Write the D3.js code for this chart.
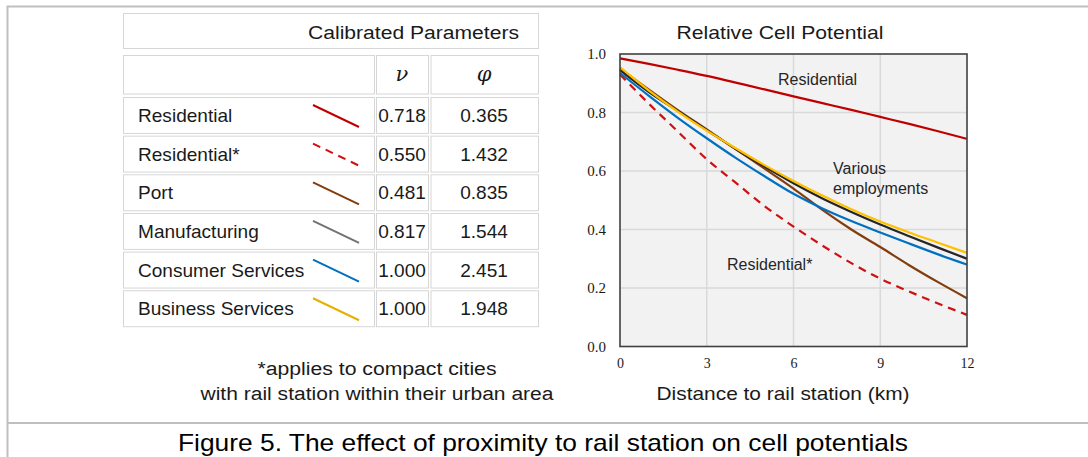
<!DOCTYPE html>
<html>
<head>
<meta charset="utf-8">
<script src="https://cdn.jsdelivr.net/npm/d3@7"></script>
<style>
  body { margin: 0; background: #fff; }
  svg { display: block; }
</style>
</head>
<body>
<script>
// distances along the x axis (km)
const distances = [0, 1, 2, 3, 4, 5, 6, 7, 8, 9, 10, 11, 12];

// relative cell potential
const residential      = [0.985, 0.966, 0.946, 0.925, 0.902, 0.879, 0.855, 0.832, 0.809, 0.785, 0.761, 0.736, 0.710];
const residentialStar  = [0.930, 0.830, 0.735, 0.640, 0.560, 0.480, 0.410, 0.345, 0.285, 0.232, 0.188, 0.147, 0.108];
const port             = [0.950, 0.878, 0.808, 0.742, 0.675, 0.608, 0.540, 0.467, 0.400, 0.340, 0.278, 0.220, 0.165];
const manufacturing    = [0.945, 0.870, 0.805, 0.740, 0.675, 0.615, 0.558, 0.506, 0.460, 0.417, 0.377, 0.338, 0.300];
const consumerServices = [0.935, 0.857, 0.782, 0.712, 0.645, 0.582, 0.522, 0.472, 0.429, 0.390, 0.352, 0.315, 0.280];
const businessServices = [0.955, 0.875, 0.803, 0.738, 0.678, 0.620, 0.566, 0.516, 0.469, 0.427, 0.390, 0.355, 0.320];

// table contents
const rowNames = ['Residential', 'Residential*', 'Port', 'Manufacturing', 'Consumer Services', 'Business Services'];
const nuValues = ['0.718', '0.550', '0.481', '0.817', '1.000', '1.000'];
const phiValues = ['0.365', '1.432', '0.835', '1.544', '2.451', '1.948'];

const xTicks = [0, 3, 6, 9, 12];
const yTicks = [0, 0.2, 0.4, 0.6, 0.8, 1.0];

const series = [
    {name: 'Residential', values: residential, color: '#c00000', legend: '#c00000', dash: null},
    {name: 'Residential*', values: residentialStar, color: '#d01010', legend: '#d01010', dash: '8,6'},
    {name: 'Port', values: port, color: '#843c0c', legend: '#843c0c', dash: null},
    {name: 'Manufacturing', values: manufacturing, color: '#262626', legend: '#767171', dash: null},
    {name: 'Consumer Services', values: consumerServices, color: '#0070c0', legend: '#0070c0', dash: null},
    {name: 'Business Services', values: businessServices, color: '#ffc000', legend: '#e6b000', dash: null}
];
// draw order in the chart (yellow on top)
const drawOrder = ['Residential*', 'Port', 'Consumer Services', 'Manufacturing', 'Business Services', 'Residential'];

const width = 1088;
const height = 457;
const sans = 'Arial, "Liberation Sans", sans-serif';
const serif = '"Times New Roman", "Liberation Serif", serif';

const svg = d3.select('body').append('svg')
    .attr('width', width)
    .attr('height', height);

// stretched text helper (the picture's lettering is a bit wider than plain Arial)
function label(parent, t, x, y, size, len) {
    return parent.append('text')
        .attr('x', x).attr('y', y)
        .attr('text-anchor', 'middle')
        .attr('textLength', len).attr('lengthAdjust', 'spacingAndGlyphs')
        .style('font', `${size}px ${sans}`).attr('fill', '#1a1a1a')
        .text(t);
}

// figure frame
const frame = svg.append('g').attr('stroke', '#bfbfbf').attr('stroke-width', 2).attr('fill', 'none');
frame.append('path').attr('d', `M7.5,${height} V6.5 H${width}`);
frame.append('line').attr('x1', 7.5).attr('x2', width).attr('y1', 423).attr('y2', 423);

// ---------------- table ----------------
const table = svg.append('g');
const cellStroke = '#d6d6d6';
const cols = [{x0: 123.5, x1: 374.5}, {x0: 376.5, x1: 428.5}, {x0: 431, x1: 538.5}];

table.append('rect')
    .attr('x', 123.5).attr('y', 13.5).attr('width', 415).attr('height', 35)
    .attr('fill', '#fff').attr('stroke', cellStroke);
label(table, 'Calibrated Parameters', 413.5, 39, 18, 211);

// header row
cols.forEach(c => {
    table.append('rect')
        .attr('x', c.x0).attr('y', 55.5).attr('width', c.x1 - c.x0).attr('height', 38.5)
        .attr('fill', '#fff').attr('stroke', cellStroke);
});
table.append('text').attr('x', 402).attr('y', 81).attr('text-anchor', 'middle')
    .style('font', `italic 21px "DejaVu Serif", ${serif}`).attr('fill', '#1a1a1a').text('\u03bd');
table.append('text').attr('x', 484).attr('y', 81).attr('text-anchor', 'middle')
    .style('font', `italic 21px "DejaVu Serif", ${serif}`).attr('fill', '#1a1a1a').text('\u03c6');

const rowY = d3.scaleBand()
    .domain(rowNames)
    .range([97, 97 + 38.2 * rowNames.length])
    .paddingInner(0.07)
    .paddingOuter(0);

const rows = table.selectAll('g.row')
    .data(rowNames)
    .join('g')
    .attr('class', 'row')
    .attr('transform', d => `translate(0, ${rowY(d)})`);

cols.forEach(c => {
    rows.append('rect')
        .attr('x', c.x0).attr('y', 0.5).attr('width', c.x1 - c.x0).attr('height', rowY.bandwidth())
        .attr('fill', '#fff').attr('stroke', cellStroke);
});
rows.append('text')
    .attr('transform', 'translate(138, 25) scale(1.06, 1)')
    .style('font', `18px ${sans}`).attr('fill', '#1a1a1a')
    .text(d => d);
rows.append('text')
    .attr('transform', 'translate(402, 25) scale(1.06, 1)')
    .attr('text-anchor', 'middle')
    .style('font', `18px ${sans}`).attr('fill', '#1a1a1a')
    .text((d, i) => nuValues[i]);
rows.append('text')
    .attr('transform', 'translate(484, 25) scale(1.06, 1)')
    .attr('text-anchor', 'middle')
    .style('font', `18px ${sans}`).attr('fill', '#1a1a1a')
    .text((d, i) => phiValues[i]);
rows.append('line')
    .attr('x1', 313).attr('y1', 8).attr('x2', 359).attr('y2', 30)
    .attr('stroke', (d, i) => series[i].legend)
    .attr('stroke-width', 2)
    .attr('stroke-dasharray', (d, i) => series[i].dash ? '8,6' : null);

// footnote
label(svg, '*applies to compact cities', 377, 375, 18, 239);
label(svg, 'with rail station within their urban area', 377, 400, 18, 353);

// ---------------- chart ----------------
const x = d3.scaleLinear().domain([0, 12]).range([620, 967]);
const y = d3.scaleLinear().domain([0, 1]).range([346.5, 54]);

const chart = svg.append('g');

chart.append('rect')
    .attr('x', x(0)).attr('y', y(1))
    .attr('width', x(12) - x(0)).attr('height', y(0) - y(1))
    .attr('fill', '#f2f2f2');

chart.append('g')
    .attr('stroke', '#d9d9d9').attr('stroke-width', 1.5)
    .selectAll('line.gx')
    .data(xTicks.slice(1, -1))
    .join('line')
    .attr('x1', d => x(d)).attr('x2', d => x(d))
    .attr('y1', y(0)).attr('y2', y(1));
chart.append('g')
    .attr('stroke', '#d9d9d9').attr('stroke-width', 1.5)
    .selectAll('line.gy')
    .data(yTicks.slice(1, -1))
    .join('line')
    .attr('y1', d => y(d)).attr('y2', d => y(d))
    .attr('x1', x(0)).attr('x2', x(12));

const line = d3.line()
    .x((d, i) => x(distances[i]))
    .y(d => y(d))
    .curve(d3.curveMonotoneX);

chart.append('g')
    .attr('fill', 'none')
    .selectAll('path')
    .data(drawOrder.map(n => series.find(s => s.name === n)))
    .join('path')
    .attr('d', d => line(d.values))
    .attr('stroke', d => d.color)
    .attr('stroke-width', 2.2)
    .attr('stroke-dasharray', d => d.dash);

// plot frame
chart.append('rect')
    .attr('x', x(0)).attr('y', y(1))
    .attr('width', x(12) - x(0)).attr('height', y(0) - y(1))
    .attr('fill', 'none').attr('stroke', '#404040').attr('stroke-width', 1.6);

// axes (labels only, no tick marks)
const xAxis = chart.append('g')
    .attr('transform', `translate(0, ${y(0)})`)
    .call(d3.axisBottom(x).tickValues(xTicks).tickSize(0).tickPadding(12).tickFormat(d3.format('d')));
const yAxis = chart.append('g')
    .attr('transform', `translate(${x(0)}, 0)`)
    .call(d3.axisLeft(y).tickValues(yTicks).tickSize(0).tickPadding(14).tickFormat(d3.format('.1f')));
xAxis.select('.domain').remove();
yAxis.select('.domain').remove();
xAxis.selectAll('text').style('font', `14px ${serif}`).attr('fill', '#1a1a1a');
yAxis.selectAll('text').style('font', `15px ${serif}`).attr('fill', '#1a1a1a');

label(chart, 'Relative Cell Potential', 780, 39, 19, 207);
label(chart, 'Distance to rail station (km)', 783, 400, 19, 253);

// annotations
const notes = [
    {t: 'Residential', x: 778, y: 85},
    {t: 'Various', x: 833, y: 174},
    {t: 'employments', x: 833, y: 194},
    {t: 'Residential*', x: 727, y: 270}
];
chart.selectAll('text.note')
    .data(notes)
    .join('text')
    .attr('class', 'note')
    .attr('x', d => d.x).attr('y', d => d.y)
    .style('font', `16px ${sans}`).attr('fill', '#262626')
    .text(d => d.t);

// caption
svg.append('text')
    .attr('x', 543).attr('y', 451).attr('text-anchor', 'middle')
    .attr('textLength', 730).attr('lengthAdjust', 'spacingAndGlyphs')
    .style('font', `24px ${sans}`).attr('fill', '#000')
    .text('Figure 5. The effect of proximity to rail station on cell potentials');
</script>
</body>
</html>
